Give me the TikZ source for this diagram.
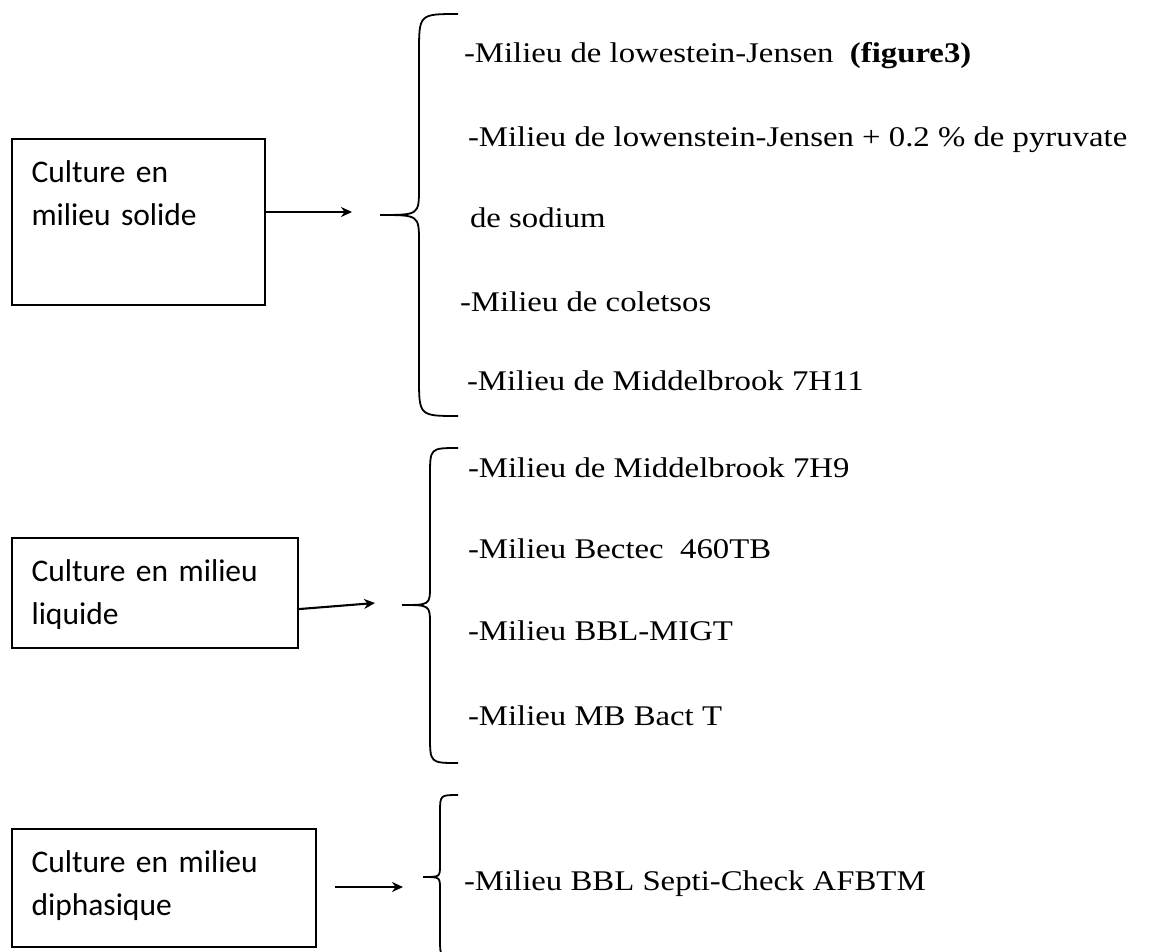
\documentclass[tikz,border=0pt]{standalone}
\usepackage{fontspec}
\setmainfont[FakeStretch=1.15]{Liberation Serif}
\newfontfamily\boxfont{Carlito}
\usetikzlibrary{arrows.meta, positioning, calc}

% accolade: pointe, demi-hauteur haut, demi-hauteur bas, profondeur, crochet
\newcommand{\accolade}[5]{%
  \draw[bracket] ($(#1)+(#4+#5,-#2)$) .. controls ($(#1)+(#4,-#2)$) .. ($(#1)+(#4,-#2+#5)$)
    -- ($(#1)+(#4,-0.7*#4)$) .. controls ($(#1)+(#4,0)$) .. (#1)
    .. controls ($(#1)+(#4,0)$) .. ($(#1)+(#4,0.7*#4)$)
    -- ($(#1)+(#4,#3-#5)$) .. controls ($(#1)+(#4,#3)$) .. ($(#1)+(#4+#5,#3)$);}

\begin{document}
\begin{tikzpicture}[x=1pt, y=-1pt, line width=2.1pt, >={Stealth[length=11pt,width=10pt]},
    culture/.style={draw, anchor=north west, inner xsep=19.5pt, inner ysep=0pt, text height=43pt,
      align=left, font=\boxfont\fontsize{31.5}{43}\selectfont},
    milieu/.style={anchor=base west, inner sep=0pt, font=\fontsize{28.5}{34}\selectfont},
    bracket/.style={line width=1.8pt}]
    \path[use as bounding box, clip] (0,0) rectangle (1151,951);

    % milieu solide
    \node[culture, text width=214pt, text depth=123pt] (solide) at (11,138) {Culture en\\milieu solide};
    \coordinate (t1) at (380,215);
    \coordinate (a1) at (352,212);
    \draw[->] (solide.east |- a1) -- (a1);
    \accolade{t1}{201}{201}{39}{39}
    \node[milieu] (sol1) at (463,62) {-Milieu de lowestein-Jensen\ \ \textbf{(figure3)}};
    \node[milieu] (sol2) at (467,146) {-Milieu de lowenstein-Jensen + 0.2 \% de pyruvate};
    \node[milieu] (sol3) at (469,227) {de sodium};
    \node[milieu] (sol4) at (459,311) {-Milieu de coletsos};
    \node[milieu] (sol5) at (466,390) {-Milieu de Middelbrook 7H11};

    % milieu liquide
    \node[culture, text width=247pt, text depth=67pt] (liquide) at (11,537) {Culture en milieu\\liquide};
    \coordinate (t2) at (402,605);
    \coordinate (a2) at (375,603);
    \draw[->] ([yshift=-16pt]liquide.east) -- (a2);
    \accolade{t2}{157}{158}{28}{28}
    \node[milieu] (liq1) at (467,477) {-Milieu de Middelbrook 7H9};
    \node[milieu] (liq2) at (467,558) {-Milieu Bectec\ \ 460TB};
    \node[milieu] (liq3) at (467,640) {-Milieu BBL-MIGT};
    \node[milieu] (liq4) at (467,725) {-Milieu MB Bact T};

    % milieu diphasique
    \node[culture, text width=265pt, text depth=75pt] (diphasique) at (11,828) {Culture en milieu\\diphasique};
    \coordinate (t3) at (423,877);
    \coordinate (a3) at (403,887);
    \draw[->] ([xshift=18pt]diphasique.east |- a3) -- (a3);
    \accolade{t3}{82}{80}{17}{18}
    \node[milieu] (diph1) at (463,890) {-Milieu BBL Septi-Check AFBTM};
\end{tikzpicture}
\end{document}
